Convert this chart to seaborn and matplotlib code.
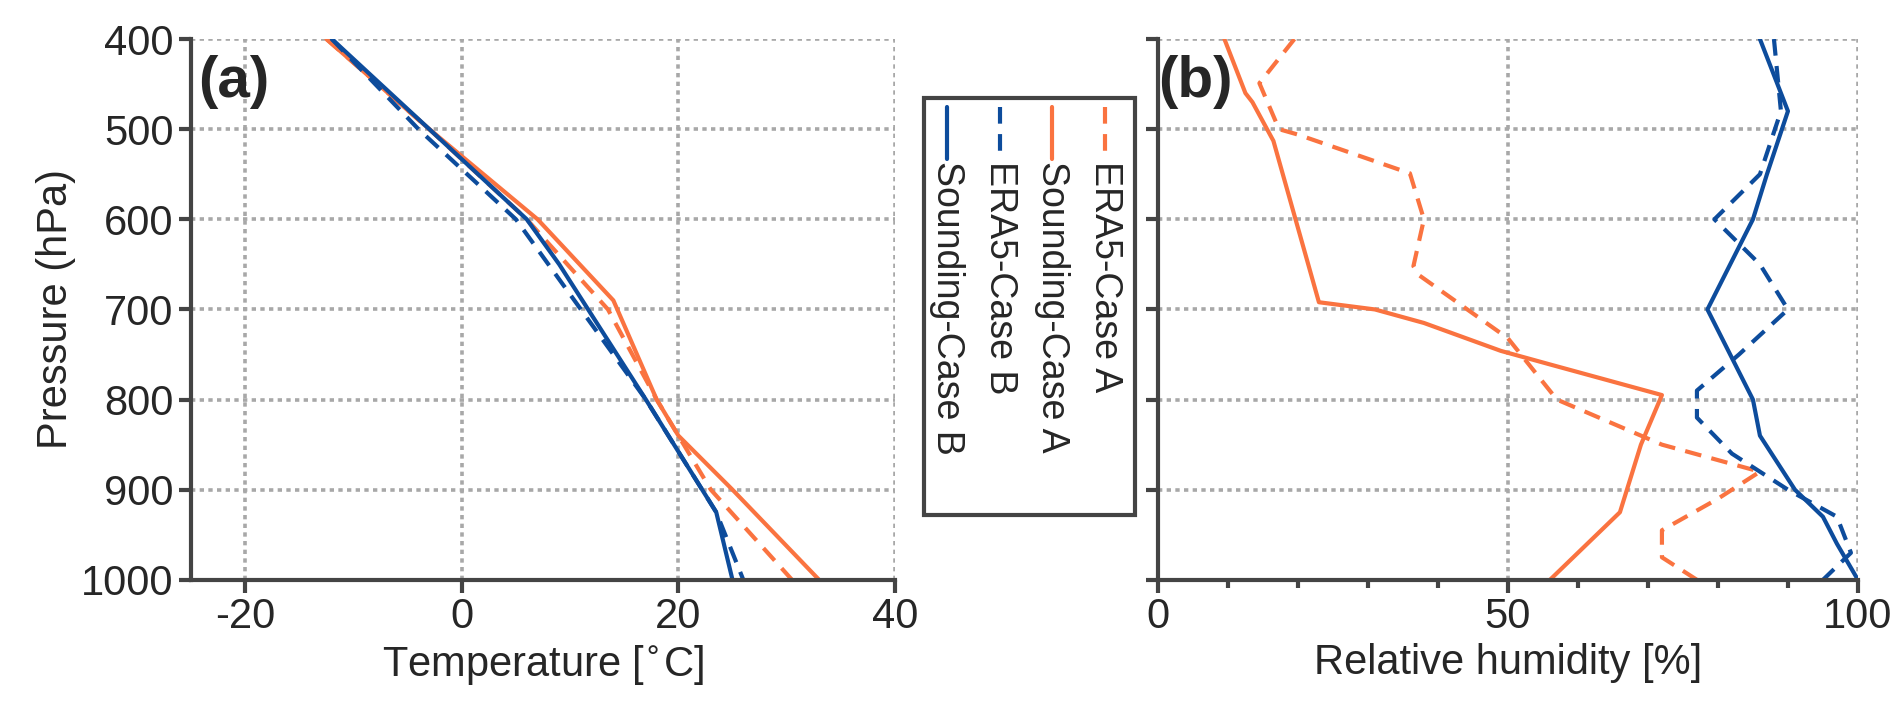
import matplotlib
matplotlib.use("Agg")
import matplotlib.pyplot as plt
import matplotlib.lines as mlines
import seaborn as sns
import pandas as pd

sns.set_style("white")
plt.rcParams["font.family"] = ["Liberation Sans", "DejaVu Sans"]
plt.rcParams["axes.unicode_minus"] = False

ORANGE = "#FA7340"
BLUE = "#0D4C9C"

# temperature profiles
p_sa_t = [400, 500, 600, 690, 800, 840, 900, 1000]
t_sa = [-12.5, -3, 7, 14, 18, 20, 25, 33]
p_ea_t = [400, 500, 600, 700, 800, 900, 1000]
t_ea = [-12.5, -3, 6, 13.5, 18, 23, 30.5]
p_sb_t = [400, 500, 600, 650, 800, 925, 1000]
t_sb = [-12, -3, 6, 9, 17, 23.5, 25]
p_eb_t = [400, 500, 600, 700, 800, 925, 1000]
t_eb = [-12, -4, 5, 11, 17, 23.5, 26]

# relative humidity profiles
p_sa_rh = [400, 460, 470, 513, 692, 700, 715, 746, 761, 795, 850, 925, 1000]
rh_sa = [9.5, 12.5, 13.5, 16.5, 23, 31, 38, 49, 56, 72, 69, 66, 56]
p_ea_rh = [400, 449, 500, 506, 549, 600, 652, 662, 732, 800, 850, 880, 910, 945, 975, 1000]
rh_ea = [19.5, 14.5, 17.3, 20, 36, 38, 36.5, 37.3, 50, 57, 72, 86, 80, 72, 72, 77]
p_sb_rh = [400, 480, 550, 600, 700, 800, 840, 900, 930, 960, 1000]
rh_sb = [86, 90, 87, 85, 78.5, 85, 86, 91, 95, 97, 100]
p_eb_rh = [400, 480, 550, 600, 650, 700, 750, 790, 820, 860, 900, 930, 970, 1000]
rh_eb = [88, 89, 86, 79.5, 86, 90, 83, 77, 77, 82, 90, 97, 99, 95]

DASH = (0, (4, 2.5))
series = [
    ("ERA5-Case A", ORANGE, DASH),
    ("Sounding-Case A", ORANGE, "-"),
    ("ERA5-Case B", BLUE, DASH),
    ("Sounding-Case B", BLUE, "-"),
]

fig = plt.figure(figsize=(18.92, 7.23), dpi=100)
ax1 = fig.add_axes([0.101, 0.198, 0.372, 0.748])
ax2 = fig.add_axes([0.612, 0.198, 0.370, 0.748])

temp = [(t_ea, p_ea_t), (t_sa, p_sa_t), (t_eb, p_eb_t), (t_sb, p_sb_t)]
hum = [(rh_ea, p_ea_rh), (rh_sa, p_sa_rh), (rh_eb, p_eb_rh), (rh_sb, p_sb_rh)]

for ax, data in ((ax1, temp), (ax2, hum)):
    for (x, y), (name, c, ls) in zip(data, series):
        df = pd.DataFrame({"x": x, "p": y})
        sns.lineplot(data=df, x="x", y="p", ax=ax, color=c, linestyle=ls,
                     lw=3, sort=False, estimator=None)
    ax.set_ylim(1000, 400)
    ax.set_yticks([400, 500, 600, 700, 800, 900, 1000])
    ax.grid(True, color="#A8A8A8", linestyle=(0, (1.2, 1.2)), lw=2.6)
    for s in ("top", "right"):
        ax.spines[s].set_visible(False)
    for s in ("left", "bottom"):
        ax.spines[s].set_color("#444444")
        ax.spines[s].set_linewidth(3)
    ax.tick_params(axis="both", labelsize=30, length=9, width=3,
                   color="#444444", direction="out", left=True, bottom=True)
    ax.set_xlabel("")
    ax.set_ylabel("")

ax1.set_xlim(-25, 40)
ax1.set_xticks([-20, 0, 20, 40])
ax1.set_xlabel("Temperature [$^{\\circ}$C]", fontsize=30)
ax1.set_ylabel("Pressure (hPa)", fontsize=30)
ax2.set_xlim(0, 100)
ax2.set_xticks([0, 50, 100])
ax2.set_xticks([10, 20, 30, 40, 60, 70, 80, 90], minor=True)
ax2.tick_params(axis="x", which="minor", length=6, width=3, color="#444444", bottom=True)
ax2.tick_params(axis="y", labelleft=False)
ax2.set_xlabel("Relative humidity [%]", fontsize=30)

ax1.text(0.01, 0.97, "(a)", transform=ax1.transAxes, fontsize=42,
         fontweight="bold", va="top", ha="left")
ax2.text(0.0, 0.97, "(b)", transform=ax2.transAxes, fontsize=42,
         fontweight="bold", va="top", ha="left")

# rotated legend box
W, H = 1550.0, 592.0
box = plt.Rectangle((757 / W, 1 - 422 / H), 173 / W, 342 / H,
                    transform=fig.transFigure, fill=False,
                    edgecolor="#444444", lw=3)
fig.add_artist(box)
for i, (name, c, ls) in enumerate(series):
    x = (905 - i * 43) / W
    fig.add_artist(mlines.Line2D([x, x], [1 - 88 / H, 1 - 130 / H],
                                 transform=fig.transFigure, color=c,
                                 linestyle=ls, lw=3))
    fig.text(x, 1 - 132 / H, name, rotation=270, fontsize=27,
             ha="center", va="top")

fig.savefig("out.png", dpi=100)
